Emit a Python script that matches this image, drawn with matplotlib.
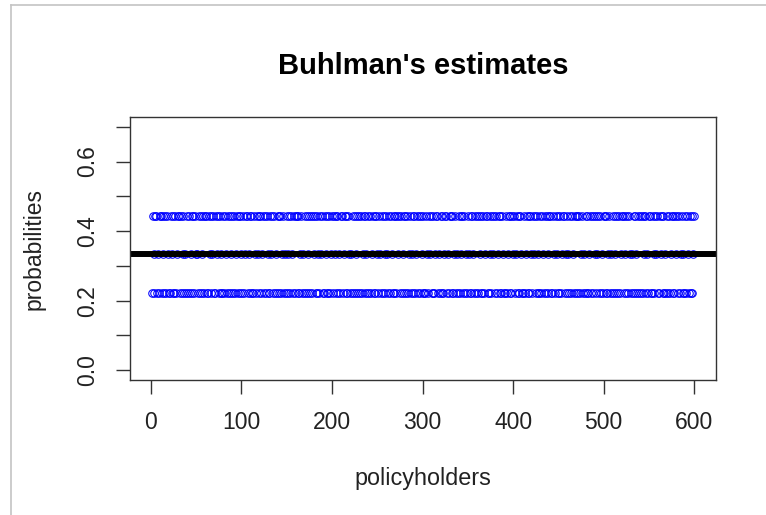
import numpy as np
import matplotlib
matplotlib.use("Agg")
import matplotlib.pyplot as plt
from matplotlib.lines import Line2D

# the three credibility estimates a policyholder can get
estimate_levels = [0.2222, 0.3333, 0.4444]
overall_mean = 0.3333

# class of each of the 600 policyholders (0 -> low, 1 -> mid, 2 -> high estimate)
policy_class = (
    "0201220102" "2012020210" "0210202012" "2020120102" "0201202021"
    "1020210202" "2002102120" "0212020102" "0210202012" "0201202021"
    "0201220102" "2002102120" "2012020210" "0212020102" "2020120102"
    "1020210202" "2020120102" "0201202021" "2002102120" "0210202012"
    "0212020102" "2012020210" "1020210202" "0201220102" "0201202021"
    "0210202012" "1020210202" "0212020102" "2020120102" "2012020210"
    "2002102120" "0201220102" "0201220102" "2020120102" "0212020102"
    "1020210202" "0210202012" "2002102120" "2012020210" "0201202021"
    "2012020210" "0201202021" "0212020102" "0210202012" "2002102120"
    "0201220102" "1020210202" "2020120102" "0201202021" "0212020102"
    "2020120102" "0210202012" "2012020210" "1020210202" "0201220102"
    "2002102120" "0212020102" "0201202021" "2020120102" "0210202012"
)
policyholders = np.arange(1, len(policy_class) + 1)
estimates = np.array([estimate_levels[int(c)] for c in policy_class])

y_ticks = [0.0, 0.1, 0.2, 0.3, 0.4, 0.5, 0.6, 0.7]
y_labels = ["0.0", "", "0.2", "", "0.4", "", "0.6", ""]
x_ticks = [0, 100, 200, 300, 400, 500, 600]

plt.rcParams['font.family'] = ['Liberation Sans', 'DejaVu Sans']

W, H = 766, 515
fig = plt.figure(figsize=(W / 100, H / 100), dpi=100)
ax = fig.add_axes([130 / W, 1 - 380 / H, (716 - 130) / W, (380 - 117) / H])

ax.plot(policyholders, estimates, linestyle='none',
        marker='o', markersize=5.4, markerfacecolor='none',
        markeredgecolor='blue', markeredgewidth=0.75)

# abline through the overall mean
ax.axhline(overall_mean, color='black', linewidth=4.3)

ax.set_xlim(-22.96, 623.96)
ax.set_ylim(-0.028, 0.728)
ax.set_xticks(x_ticks)
ax.set_xticklabels([str(v) for v in x_ticks])
ax.set_yticks(y_ticks)
ax.set_yticklabels(y_labels, rotation=90, va='center')
ax.tick_params(axis='both', length=10, width=1, color='#333333', labelsize=16.5,
               labelcolor='#222222')
ax.tick_params(axis='x', pad=12)
ax.tick_params(axis='y', pad=12)
for sp in ax.spines.values():
    sp.set_color('#333333')
    sp.set_linewidth(1)

ax.set_title("Buhlman's estimates", fontsize=21, fontweight='bold', pad=31)
ax.set_xlabel("policyholders", fontsize=16.8, labelpad=24, color='#222222')
ax.set_ylabel("probabilities", fontsize=16.5, labelpad=22, color='#222222')

# light gray frame from the screenshot
fig.add_artist(Line2D([11 / W, 1], [1 - 5 / H, 1 - 5 / H], color='#c4c4c4', linewidth=1.2))
fig.add_artist(Line2D([11 / W, 11 / W], [0, 1 - 5 / H], color='#c4c4c4', linewidth=1.2))

fig.savefig("out.png", dpi=100)
